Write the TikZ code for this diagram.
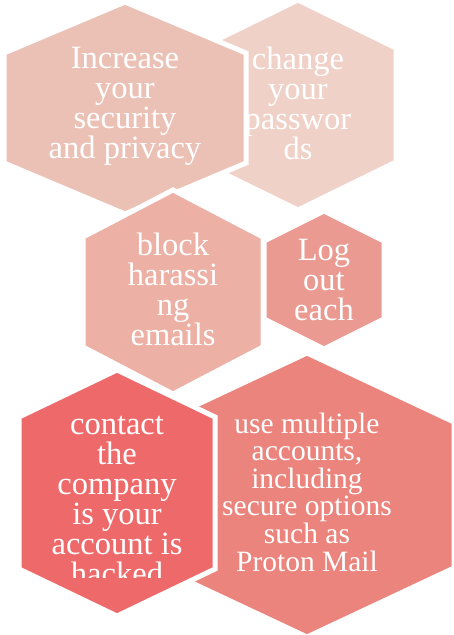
\documentclass[tikz,border=0pt]{standalone}
\usepackage{fontspec}
\setmainfont{Liberation Serif}
\usepackage{xcolor}
\definecolor{hexsand}{RGB}{235,193,182}
\definecolor{hexshell}{RGB}{239,209,200}
\definecolor{hexpeach}{RGB}{236,176,165}
\definecolor{hexsalmon}{RGB}{234,154,144}
\definecolor{hexcoral}{RGB}{238,106,106}
\definecolor{hexflush}{RGB}{234,132,124}

% pointy-top hexagon: centre x, centre y, half width, half height, half side, colour
\newcommand{\hexcell}[6]{%
  \filldraw[fill=#6, draw=white, line width=5pt]
    ({#1},{#2-#4}) -- ({#1+#3},{#2-#5}) -- ({#1+#3},{#2+#5}) -- ({#1},{#2+#4})
    -- ({#1-#3},{#2+#5}) -- ({#1-#3},{#2-#5}) -- cycle;}

\begin{document}
\begin{tikzpicture}[
        x=1pt, y=-1pt,
        hexlabel/.style={text=white, align=center, inner sep=0pt,
                         font=\fontsize{32.5}{30}\selectfont},
        hexsmall/.style={hexlabel, font=\fontsize{29.5}{27.6}\selectfont}
    ]
        \useasboundingbox (0,0) rectangle (453,635);

        % top pair
        \hexcell{298}{105}{98}{105}{57}{hexshell}
        \node[hexlabel] (passwords) at (298,103) {change\\your\\passwor\\ds};
        \hexcell{125}{108}{121}{106}{55}{hexsand}
        \node[hexlabel] (privacy) at (125,106) {Increase\\your\\security\\and privacy};

        % middle pair
        \hexcell{173}{292}{90}{102}{55}{hexpeach}
        \node[hexlabel] (block) at (173,289) {block\\harassi\\ng\\emails};
        \hexcell{324}{280}{60}{69}{39}{hexsalmon}
        \node[hexlabel] (logout) at (324,280) {Log\\out\\each};

        % bottom pair
        \hexcell{307}{495}{147}{142}{73}{hexflush}
        \node[hexsmall] (accounts) at (307,492) {use multiple\\accounts,\\including\\secure options\\such as\\Proton Mail};
        \hexcell{117}{493}{98}{123}{76}{hexcoral}
        \begin{scope}
            \clip (20,400) rectangle (215,577);
            \node[hexlabel] (contact) at (117,501) {contact\\the\\company\\is your\\account is\\hacked};
        \end{scope}
    \end{tikzpicture}
\end{document}
